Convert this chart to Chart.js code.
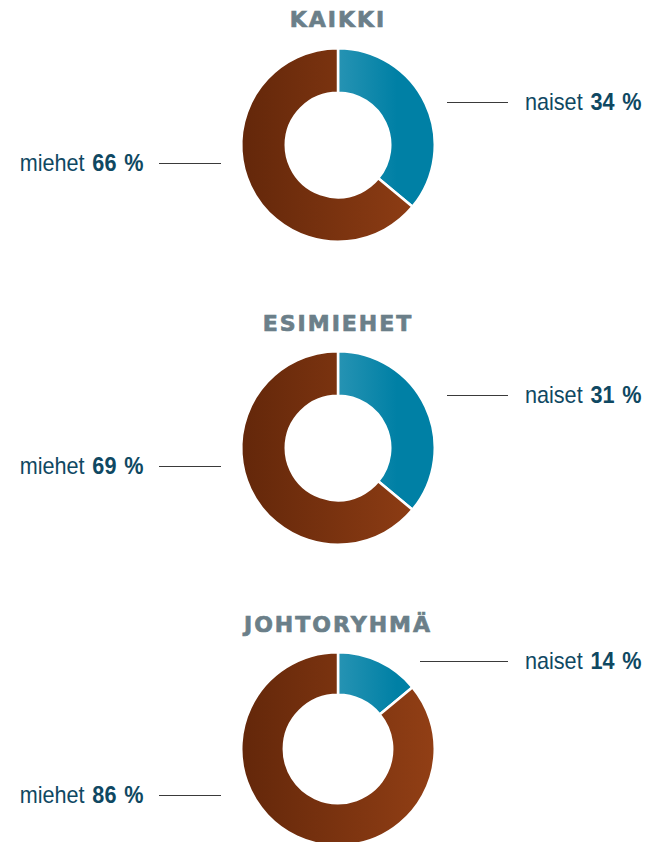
<!DOCTYPE html>
<html>
<head>
<meta charset="utf-8">
<script src="https://cdn.jsdelivr.net/npm/chart.js@4"></script>
<style>
  html, body { margin: 0; padding: 0; background: #fff; }
  body { width: 653px; height: 842px; position: relative; overflow: hidden; }
  .title {
    position: absolute; left: 238px; width: 200px; text-align: center;
    font-family: "DejaVu Sans", sans-serif; font-weight: bold; font-size: 22px;
    letter-spacing: 2px; color: #6b7f89; line-height: 26px;
    -webkit-text-stroke: 0.7px #6b7f89;
  }
  .lbl {
    position: absolute; font-family: "Liberation Sans", Arial, sans-serif;
    font-size: 24px; color: #0f4862; line-height: 28px; white-space: nowrap;
    word-spacing: 2px; transform: scaleX(0.9);
  }
  .lbl.r { transform-origin: left center; }
  .lbl.l { transform-origin: right center; }
  .lbl b { font-weight: bold; }
  .line { position: absolute; height: 1px; background: #3a3a3a; }
  canvas { position: absolute; }
</style>
</head>
<body>
<script>
// data
const titles = ["KAIKKI", "ESIMIEHET", "JOHTORYHMÄ"];
const categories = ["naiset", "miehet"];
const naisetValues = [34, 31, 14];
const miehetValues = [66, 69, 86];
// shares as drawn in the rings of the picture (the top two rings are drawn alike)
const naisetDrawn = [36, 36, 14];
const miehetDrawn = [64, 64, 86];

// layout for each group
const centersY = [145, 448, 749];
const titlesY = [7, 311, 612];
const naisetY = [102, 395, 661];
const miehetY = [163, 466, 795];
const naisetLineX = [447, 447, 420];

const tealFrom = "#2693b3", tealTo = "#0080a5";
const brownFrom = "#63270a", brownTo = "#923f15";

function add(tag, cls, style, html) {
  const el = document.createElement(tag);
  el.className = cls;
  Object.assign(el.style, style);
  if (html) el.innerHTML = html;
  document.body.appendChild(el);
  return el;
}

titles.forEach((t, i) => {
  add("div", "title", { top: titlesY[i] + "px" }, t);

  // right label: naiset
  add("div", "line", { left: naisetLineX[i] + "px", width: (508 - naisetLineX[i]) + "px", top: naisetY[i] + "px" });
  add("div", "lbl r", { left: "525px", top: (naisetY[i] - 14) + "px" },
    categories[0] + " <b>" + naisetValues[i] + " %</b>");

  // left label: miehet
  add("div", "line", { left: "159px", width: "62px", top: miehetY[i] + "px" });
  add("div", "lbl l", { right: (653 - 143) + "px", top: (miehetY[i] - 14) + "px" },
    categories[1] + " <b>" + miehetValues[i] + " %</b>");

  const cv = document.createElement("canvas");
  cv.width = 200; cv.height = 200;
  cv.style.left = (338 - 100) + "px";
  cv.style.top = (centersY[i] - 100) + "px";
  document.body.appendChild(cv);

  new Chart(cv.getContext("2d"), {
    type: "doughnut",
    data: {
      labels: categories,
      datasets: [{
        data: [naisetDrawn[i], miehetDrawn[i]],
        backgroundColor: (c) => {
          const area = c.chart.chartArea;
          if (!area) return c.dataIndex === 0 ? tealTo : brownTo;
          const ctx = c.chart.ctx;
          const mid = (area.left + area.right) / 2;
          let g;
          if (c.dataIndex === 0) {
            g = ctx.createLinearGradient(mid, 0, area.right, 0);
            g.addColorStop(0, tealFrom);
            g.addColorStop(0.6, tealTo);
            g.addColorStop(1, tealTo);
          } else {
            g = ctx.createLinearGradient(area.left, 0, area.right, 0);
            g.addColorStop(0, brownFrom);
            g.addColorStop(1, brownTo);
          }
          return g;
        },
        borderColor: "#ffffff",
        borderWidth: 2.5,
        hoverOffset: 0,
      }],
    },
    options: {
      responsive: false,
      animation: false,
      cutout: i === 2 ? "56%" : "54%",
      layout: { padding: 2 },
      plugins: { legend: { display: false }, tooltip: { enabled: false } },
      events: [],
    },
  });
});
</script>
</body>
</html>
